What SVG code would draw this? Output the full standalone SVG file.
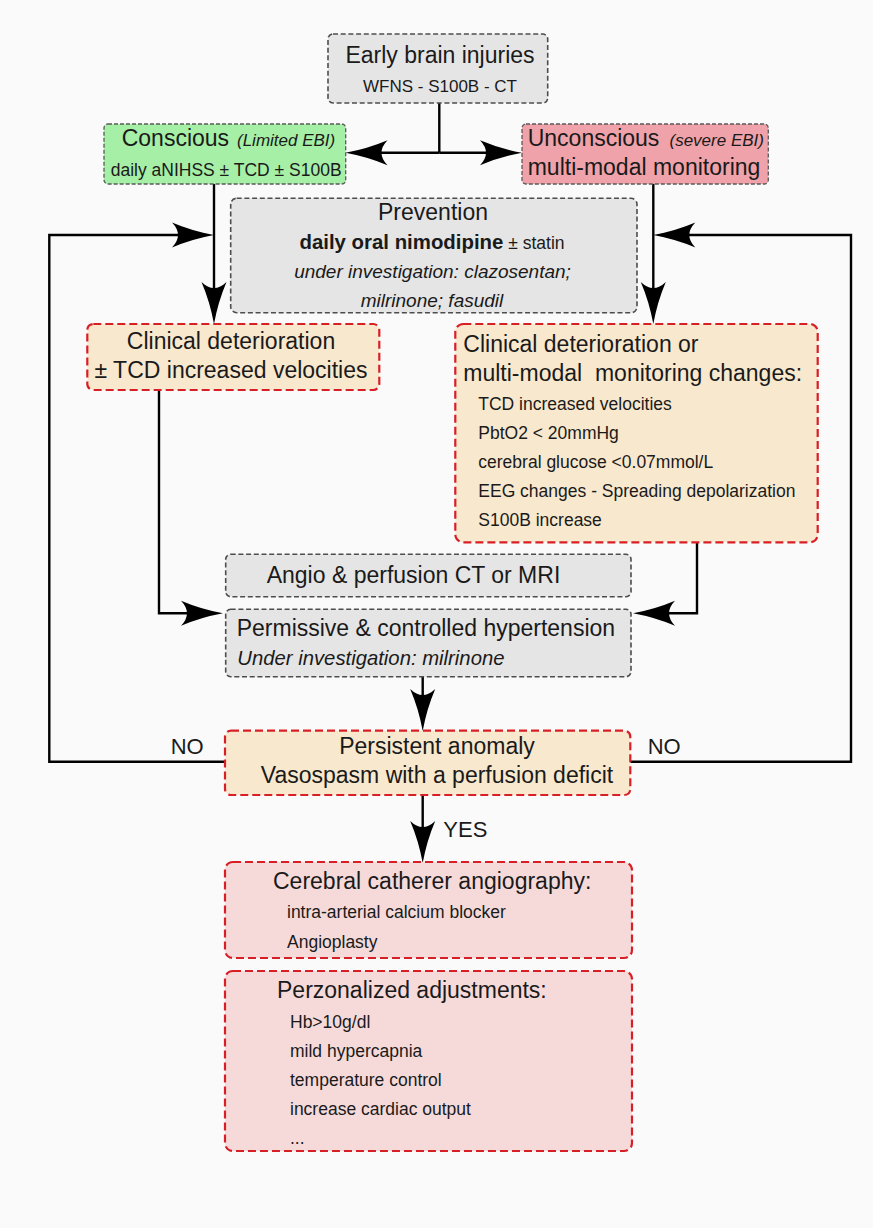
<svg xmlns="http://www.w3.org/2000/svg" width="873" height="1228" viewBox="0 0 873 1228">
<style>
text{font-family:"Liberation Sans",Arial,sans-serif;fill:#1a1a1a}
.t23{font-size:23px}
.t17{font-size:17.5px}
.it{font-style:italic}
.gray{fill:#e5e5e5;stroke:#4d4d4d;stroke-width:1.6;stroke-dasharray:5 2.7}
.green{fill:#a6efa6;stroke:#5a5a5a;stroke-width:1.3;stroke-dasharray:4 2}
.rose{fill:#efa2a9;stroke:#5a5a5a;stroke-width:1.3;stroke-dasharray:4 2}
.beige{fill:#f8e8ce;stroke:#d91f26;stroke-width:2.2;stroke-dasharray:8 4}
.pink{fill:#f6dada;stroke:#d91f26;stroke-width:2.2;stroke-dasharray:8 4}
.conn{fill:none;stroke:#000;stroke-width:2.4}
</style>
<defs>
<marker id="arr" markerUnits="userSpaceOnUse" viewBox="-46 -15 50 30" markerWidth="50" markerHeight="30" refX="-8" refY="0" orient="auto">
<path d="M0,0 Q-22,-4 -42,-12.5 Q-30,0 -42,12.5 Q-22,4 0,0 Z" fill="#000"/>
</marker>
</defs>
<rect width="873" height="1228" fill="#fafafa"/>

<g id="connectors">
<path class="conn" d="M439.3,103 V152.7"/>
<path class="conn" d="M439.3,152.7 H353.5" marker-end="url(#arr)"/>
<path class="conn" d="M439.3,152.7 H514" marker-end="url(#arr)"/>
<path class="conn" d="M214,184 V316" marker-end="url(#arr)"/>
<path class="conn" d="M653.3,184 V316" marker-end="url(#arr)"/>
<path class="conn" d="M225,761.7 H49.3 V235 H206" marker-end="url(#arr)"/>
<path class="conn" d="M630.3,761.7 H851 V235 H661.3" marker-end="url(#arr)"/>
<path class="conn" d="M159,390 V613.3 H215" marker-end="url(#arr)"/>
<path class="conn" d="M697,542.3 V613.3 H641" marker-end="url(#arr)"/>
<path class="conn" d="M422.7,676.7 V723" marker-end="url(#arr)"/>
<path class="conn" d="M422.7,795 V855" marker-end="url(#arr)"/>
</g>

<g id="early">
<rect class="gray" x="328" y="34" width="219.7" height="69" rx="5"/>
<text class="t23" x="440" y="62.7" text-anchor="middle">Early brain injuries</text>
<text x="440" y="91.7" font-size="17" text-anchor="middle">WFNS - S100B - CT</text>
</g>

<g id="conscious">
<rect class="green" x="104" y="124" width="241.7" height="60" rx="4"/>
<text class="t23" x="121.7" y="146">Conscious</text>
<text class="it" x="237" y="146" font-size="17">(Limited EBI)</text>
<text class="t17" x="110.7" y="175.7">daily aNIHSS ± TCD ± S100B</text>
</g>

<g id="unconscious">
<rect class="rose" x="522" y="124" width="246.3" height="60" rx="4"/>
<text class="t23" x="527.7" y="146">Unconscious</text>
<text class="it" x="669.5" y="146" font-size="17">(severe EBI)</text>
<text class="t23" x="527.7" y="175">multi-modal monitoring</text>
</g>

<g id="prevention">
<rect class="gray" x="230.7" y="198.3" width="406.3" height="114.4" rx="6"/>
<text class="t23" x="433" y="220" text-anchor="middle">Prevention</text>
<text x="432" y="249.3" text-anchor="middle"><tspan font-weight="bold" font-size="20.4">daily oral nimodipine</tspan><tspan font-size="17.5"> ± statin</tspan></text>
<text class="it" x="432.5" y="278.3" font-size="19" text-anchor="middle">under investigation: clazosentan;</text>
<text class="it" x="432" y="306.7" font-size="19" text-anchor="middle">milrinone; fasudil</text>
</g>

<g id="clinical-left">
<rect class="beige" x="87.3" y="324" width="292" height="66" rx="6"/>
<text class="t23" x="231" y="349" text-anchor="middle">Clinical deterioration</text>
<text class="t23" x="231" y="378.3" text-anchor="middle">± TCD increased velocities</text>
</g>

<g id="clinical-right">
<rect class="beige" x="455.3" y="324" width="362.4" height="218.3" rx="8"/>
<text class="t23" x="463.3" y="351.7">Clinical deterioration or</text>
<text class="t23" x="463.3" y="380.7" xml:space="preserve">multi-modal  monitoring changes:</text>
<text class="t17" x="478.3" y="410">TCD increased velocities</text>
<text class="t17" x="478.3" y="439">PbtO2 &lt; 20mmHg</text>
<text class="t17" x="478.3" y="468">cerebral glucose &lt;0.07mmol/L</text>
<text class="t17" x="478.3" y="497">EEG changes - Spreading depolarization</text>
<text class="t17" x="478.3" y="526">S100B increase</text>
</g>

<g id="angio">
<rect class="gray" x="225.7" y="554.3" width="405.3" height="42.4" rx="5"/>
<text class="t23" x="266.7" y="583.3">Angio &amp; perfusion CT or MRI</text>
</g>

<g id="permissive">
<rect class="gray" x="225.7" y="609.3" width="405.3" height="67.4" rx="5"/>
<text class="t23" x="236.7" y="636">Permissive &amp; controlled hypertension</text>
<text class="it" x="237.3" y="665" font-size="20.3">Under investigation: milrinone</text>
</g>

<g id="persistent">
<rect class="beige" x="225" y="730.7" width="405.3" height="64.3" rx="6"/>
<text class="t23" x="437" y="754" text-anchor="middle">Persistent anomaly</text>
<text class="t23" x="437" y="783.3" text-anchor="middle">Vasospasm with a perfusion deficit</text>
</g>

<g id="labels">
<text x="170.7" y="754" font-size="22">NO</text>
<text x="647.7" y="754" font-size="22">NO</text>
<text x="443.3" y="836.7" font-size="22">YES</text>
</g>

<g id="cerebral">
<rect class="pink" x="225" y="862" width="407" height="96" rx="8"/>
<text class="t23" x="273" y="889">Cerebral catherer angiography:</text>
<text class="t17" x="287" y="918">intra-arterial calcium blocker</text>
<text class="t17" x="287" y="948">Angioplasty</text>
</g>

<g id="personalized">
<rect class="pink" x="225" y="971" width="407" height="180" rx="8"/>
<text class="t23" x="277" y="998">Perzonalized adjustments:</text>
<text class="t17" x="290" y="1028">Hb&gt;10g/dl</text>
<text class="t17" x="290" y="1057">mild hypercapnia</text>
<text class="t17" x="290" y="1086">temperature control</text>
<text class="t17" x="290" y="1115">increase cardiac output</text>
<text class="t17" x="290" y="1144">...</text>
</g>
</svg>
